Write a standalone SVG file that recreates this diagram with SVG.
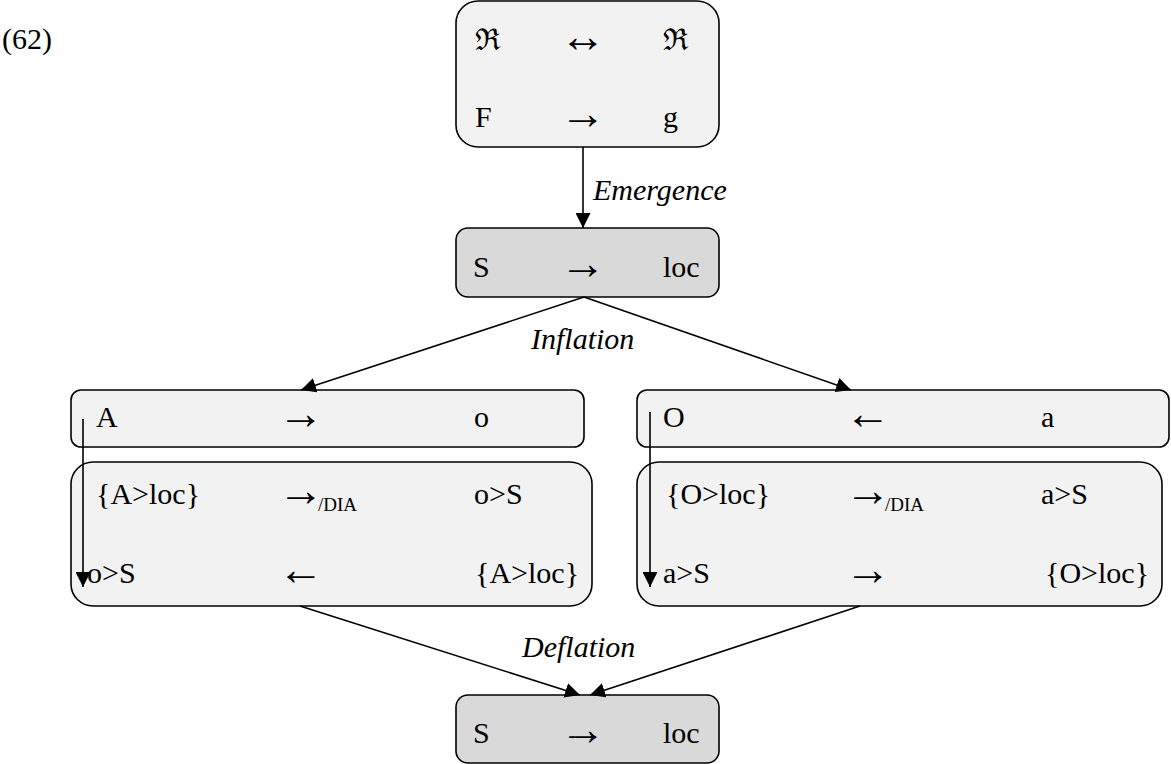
<svg xmlns="http://www.w3.org/2000/svg" width="1171" height="764" viewBox="0 0 1171 764">
<defs>
<style>
text{font-family:"Liberation Serif","DejaVu Serif",serif;font-size:30px;fill:#000}
.it{font-style:italic}
.sub{font-size:19px}
.ar{font-family:"Liberation Serif",serif;font-size:46px}
.lt{fill:#f2f2f2;stroke:#000;stroke-width:1.6}
.dk{fill:#d9d9d9;stroke:#000;stroke-width:1.6}
.ln{stroke:#000;stroke-width:1.6;fill:none;marker-end:url(#ah)}
</style>
<marker id="ah" markerUnits="userSpaceOnUse" markerWidth="15" markerHeight="15" viewBox="0 0 15 15" refX="15" refY="7.5" orient="auto">
<path d="M0,0 L15,7.5 L0,15 z" fill="#000"/>
</marker>
</defs>
<rect width="1171" height="764" fill="#fff"/>
<text id="label62" x="2" y="49">(62)</text>

<g id="node-top">
<rect class="lt" x="456" y="1" width="263" height="146" rx="22"/>
<text x="475" y="50">ℜ</text><text class="ar" x="560" y="52">↔</text><text x="663" y="50">ℜ</text>
<text x="475" y="127">F</text><text class="ar" x="560" y="129">→</text><text x="663" y="127">g</text>
</g>

<g id="node-s1">
<rect class="dk" x="456" y="228" width="263" height="69" rx="12"/>
<text x="473" y="277">S</text><text class="ar" x="560" y="279">→</text><text x="663" y="277">loc</text>
</g>

<g id="node-left-top">
<rect class="lt" x="71" y="390" width="513" height="57" rx="10"/>
<text x="96" y="427">A</text><text class="ar" x="278" y="429">→</text><text x="474" y="427">o</text>
</g>

<g id="node-left-bottom">
<rect class="lt" x="71" y="462" width="521" height="144" rx="22"/>
<text x="96" y="504">{A&gt;loc}</text>
<text class="ar" x="278" y="506">→<tspan class="sub" x="318" y="511">/DIA</tspan></text>
<text x="474" y="504">o&gt;S</text>
<text x="87" y="583">o&gt;S</text><text class="ar" x="278" y="585">←</text><text x="475" y="583">{A&gt;loc}</text>
</g>

<g id="node-right-top">
<rect class="lt" x="637" y="390" width="532" height="57" rx="10"/>
<text x="663" y="427">O</text><text class="ar" x="845" y="429">←</text><text x="1041" y="427">a</text>
</g>

<g id="node-right-bottom">
<rect class="lt" x="637" y="462" width="525" height="144" rx="22"/>
<text x="666" y="504">{O&gt;loc}</text>
<text class="ar" x="845" y="506">→<tspan class="sub" x="885" y="511">/DIA</tspan></text>
<text x="1041" y="504">a&gt;S</text>
<text x="663" y="583">a&gt;S</text><text class="ar" x="845" y="585">→</text><text x="1045" y="583">{O&gt;loc}</text>
</g>

<g id="node-s2">
<rect class="dk" x="456" y="695" width="263" height="68" rx="12"/>
<text x="473" y="743">S</text><text class="ar" x="560" y="745">→</text><text x="663" y="743">loc</text>
</g>

<g id="connectors">
<line class="ln" x1="583" y1="147" x2="583" y2="228"/>
<text class="it" x="593" y="200">Emergence</text>
<line class="ln" x1="584" y1="297" x2="301" y2="390"/>
<line class="ln" x1="584" y1="297" x2="851" y2="390"/>
<text class="it" x="531" y="349">Inflation</text>
<line class="ln" x1="83" y1="419" x2="83" y2="587"/>
<line class="ln" x1="650" y1="412" x2="650" y2="587"/>
<line class="ln" x1="300" y1="606" x2="580" y2="695"/>
<line class="ln" x1="860" y1="606" x2="590" y2="695"/>
<text class="it" x="522" y="657">Deflation</text>
</g>
</svg>
